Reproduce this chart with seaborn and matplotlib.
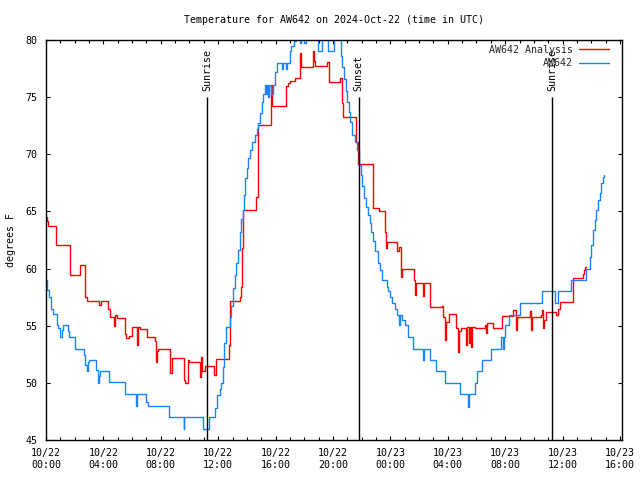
import numpy as np
import pandas as pd
import seaborn as sns
import matplotlib
matplotlib.use("Agg")
import matplotlib.pyplot as plt
from matplotlib.ticker import MultipleLocator, FixedLocator

# ---------------- data (hours since 10/22 00:00 UTC, degrees F) ----------------
obs_hours = [0.0, 0.1, 0.2, 0.35, 0.5, 0.74, 0.85, 1.0, 1.12, 1.2, 1.5, 1.6, 2.0,
             2.65, 2.75, 2.85, 2.95, 3.02, 3.45, 3.62, 3.68, 3.75, 4.4, 5.5, 6.3,
             6.35, 6.95, 7.1, 8.55, 9.6, 9.65, 10.95, 11.38, 11.75, 11.9, 12.1,
             12.2, 12.33, 12.42, 12.52, 12.8, 12.92, 13.03, 13.15, 13.27, 13.38,
             13.5, 13.62, 13.7, 13.8, 13.87, 13.98, 14.1, 14.2, 14.33, 14.55,
             14.68, 14.8, 14.9, 15.03, 15.14, 15.26, 15.35, 15.4, 15.5, 15.55,
             15.7, 15.8, 15.96, 16.08, 16.48, 16.53, 16.75, 16.8, 17.0, 17.1,
             17.3, 17.45, 17.72, 17.78, 18.0, 18.1, 18.95, 19.2, 19.65, 20.1,
             20.55, 20.65, 20.8, 20.9, 21.0, 21.1, 21.18, 21.35, 21.5, 21.65,
             21.83, 21.95, 22.05, 22.18, 22.3, 22.42, 22.55, 22.68, 22.81, 22.93,
             23.16, 23.28, 23.39, 23.74, 23.85, 23.97, 24.09, 24.32, 24.44, 24.6,
             24.7, 24.8, 25.02, 25.25, 25.6, 26.25, 26.33, 26.76, 27.18, 27.8,
             28.85, 29.38, 29.45, 29.9, 30.02, 30.4, 31.0, 31.7, 31.82, 31.9,
             32.0, 32.3, 33.0, 34.55, 35.45, 35.68, 36.6, 37.65, 37.88, 38.0,
             38.12, 38.24, 38.36, 38.48, 38.58, 38.7, 38.82, 38.86]
obs_temps = [59.0, 58.1, 57.5, 56.5, 56.0, 55.1, 54.8, 54.0, 54.6, 55.1, 54.5, 54.0, 53.0,
             52.4, 51.6, 51.0, 51.8, 52.0, 51.1, 50.0, 50.6, 51.0, 50.1, 49.0, 48.0,
             49.0, 48.3, 48.0, 47.0, 46.0, 47.0, 46.0, 47.0, 47.8, 48.9, 49.5,
             50.0, 51.4, 53.5, 54.9, 55.8, 56.7, 58.3, 59.4, 60.5, 61.6,
             63.2, 64.3, 65.1, 66.4, 67.9, 68.8, 69.7, 70.4, 71.1, 71.7,
             72.2, 72.7, 73.6, 74.6, 75.3, 76.1, 75.3, 76.1, 75.0, 76.1,
             75.3, 76.1, 77.2, 78.0, 77.5, 78.0, 77.5, 78.0, 79.0, 79.5,
             79.9, 80.5, 79.7, 80.5, 79.7, 80.5, 79.0, 80.5, 79.0, 80.5,
             78.6, 77.6, 76.6, 75.5, 74.6, 73.7, 72.85, 71.7, 71.1, 70.4,
             69.1, 68.2, 67.2, 66.2, 65.4, 64.7, 64.0, 63.2, 62.4, 61.5,
             60.45, 59.9, 59.0, 58.4, 58.0, 57.5, 57.0, 56.5, 55.9, 55.1,
             55.9, 55.5, 55.1, 54.0, 53.0, 52.0, 53.0, 52.0, 51.0, 50.0,
             49.0, 47.9, 49.0, 50.0, 51.0, 52.0, 53.0, 54.0, 53.0, 54.0,
             55.1, 55.9, 57.0, 58.0, 57.0, 58.0, 59.0, 60.0, 61.0, 62.1,
             63.4, 64.25, 65.1, 66.0, 66.6, 67.5, 68.0, 68.2]

ana_hours = [0.0, 0.05, 0.15, 0.72, 1.65, 1.7, 2.35, 2.4, 2.7, 2.75, 2.85, 3.72, 3.8,
             4.35, 4.45, 4.72, 4.78, 4.95, 5.5, 5.6, 5.75, 6.0, 6.33, 6.38, 6.55,
             7.05, 7.6, 7.68, 7.75, 7.83, 8.66, 8.8, 9.6, 9.7, 9.9, 10.0, 10.7,
             10.8, 10.9, 11.05, 11.72, 11.82, 12.72, 12.8, 13.5, 13.58, 13.68,
             13.75, 14.6, 14.8, 15.65, 15.72, 16.7, 16.85, 17.0, 17.35, 17.68,
             17.75, 18.62, 18.7, 18.78, 19.6, 19.72, 20.5, 20.6, 20.7, 21.62,
             21.75, 22.78, 23.2, 23.62, 23.7, 23.78, 24.48, 24.6, 24.72, 24.79,
             25.63, 25.7, 25.77, 26.25, 26.35, 26.75, 27.6, 27.7, 27.78, 27.88,
             28.05, 28.6, 28.68, 28.78, 28.95, 29.3, 29.35, 29.45, 29.55, 29.65,
             29.72, 29.9, 30.6, 30.68, 30.75, 31.15, 31.75, 32.55, 32.75, 32.85,
             33.7, 33.82, 33.88, 34.5, 34.57, 34.62, 34.7, 34.85, 35.55, 35.7,
             35.8, 36.7, 37.4, 37.49, 37.58, 37.62]
ana_temps = [64.55, 64.2, 63.7, 62.05, 60.75, 59.4, 60.0, 60.3, 59.0, 57.5, 57.15, 56.8, 57.15,
             56.5, 55.8, 55.0, 55.9, 55.7, 54.3, 53.9, 54.1, 54.9, 53.3, 54.9, 54.7,
             54.0, 53.7, 51.85, 52.8, 53.0, 50.9, 52.15, 50.25, 50.0, 52.0, 51.8, 50.55,
             52.3, 51.0, 51.5, 50.7, 52.05, 53.3, 57.15, 57.5, 58.4, 61.8,
             65.1, 66.3, 72.6, 76.1, 74.2, 76.0, 76.2, 76.4, 76.7, 78.9,
             77.6, 79.0, 78.2, 77.7, 78.1, 76.3, 76.7, 74.5, 73.3, 71.1,
             69.15, 65.3, 65.0, 63.2, 61.8, 62.35, 61.5, 61.9, 59.3, 60.0,
             59.0, 57.7, 58.7, 57.6, 58.7, 56.6, 56.7, 55.8, 53.75, 55.35,
             56.0, 54.8, 52.7, 54.5, 54.8, 53.3, 54.9, 53.5, 54.9, 53.1,
             54.9, 54.8, 55.1, 54.4, 55.2, 54.8, 55.85, 56.4, 54.6, 55.8,
             56.3, 54.6, 55.8, 55.9, 56.4, 54.8, 55.5, 56.2, 55.9, 56.5,
             57.1, 59.15, 59.5, 59.9, 60.1, 60.1]

sun_hours = [11.22, 21.8, 35.26]
sun_labels = ["Sunrise", "Sunset", "Sunrise"]

tick_hours = [0, 4, 8, 12, 16, 20, 24, 28, 32, 36, 40]
tick_labels = ["10/22\n00:00", "10/22\n04:00", "10/22\n08:00", "10/22\n12:00",
               "10/22\n16:00", "10/22\n20:00", "10/23\n00:00", "10/23\n04:00",
               "10/23\n08:00", "10/23\n12:00", "10/23\n16:00"]

title = "Temperature for AW642 on 2024-Oct-22 (time in UTC)"
ana_name = "AW642 Analysis"
obs_name = "AW642"

# ---------------- plot ----------------
sns.set_theme(style="white")
plt.rcParams["font.family"] = ["DejaVu Sans Mono", "DejaVu Sans"]
FS = 7.2

fig = plt.figure(figsize=(6.4, 4.8), dpi=100)
ax = fig.add_axes([46 / 640, 40 / 480, 576 / 640, 400 / 480])

ana_df = pd.DataFrame({"hour": ana_hours, "temp": ana_temps})
obs_df = pd.DataFrame({"hour": obs_hours, "temp": obs_temps})

sns.lineplot(data=ana_df, x="hour", y="temp", ax=ax, color="#ff0000", lw=1.0,
             drawstyle="steps-post", estimator=None, sort=False, label=ana_name)
sns.lineplot(data=obs_df, x="hour", y="temp", ax=ax, color="#1a84ff", lw=1.0,
             drawstyle="steps-post", estimator=None, sort=False, label=obs_name)

ax.vlines(sun_hours, 45, 75, color="black", lw=1.0, zorder=3)
for h, lab in zip(sun_hours, sun_labels):
    ax.text(h, 75.5, lab, rotation=90, ha="center", va="bottom", fontsize=FS,
            color="black")

ax.set_xlim(0, 40.14)
ax.set_ylim(45, 80)
ax.xaxis.set_major_locator(FixedLocator(tick_hours))
ax.set_xticklabels(tick_labels, fontsize=FS)
ax.xaxis.set_minor_locator(MultipleLocator(1))
ax.yaxis.set_major_locator(MultipleLocator(5))
ax.tick_params(axis="y", labelsize=FS)
ax.tick_params(which="major", direction="in", length=3.2, width=0.8,
               top=True, right=True, bottom=True, left=True, color="black",
               labelcolor="black")
ax.tick_params(which="minor", direction="in", length=2.0, width=0.8,
               top=True, bottom=True, left=False, right=False, color="black")
ax.tick_params(axis="x", pad=6)
ax.tick_params(axis="y", pad=6)

for sp in ax.spines.values():
    sp.set_color("black")
    sp.set_linewidth(1.0)

ax.set_xlabel("")
ax.set_ylabel("degrees F", fontsize=FS, color="black", labelpad=7)
ax.set_title(title, fontsize=FS, color="black", pad=12)

leg = ax.legend(loc="upper right", bbox_to_anchor=(1 - 8 / 576, 1.0),
                frameon=False, markerfirst=False, fontsize=FS,
                handlelength=3.0, handletextpad=0.6, labelspacing=0.35,
                borderaxespad=0.3, borderpad=0.2)

fig.savefig("out.png", dpi=100)
